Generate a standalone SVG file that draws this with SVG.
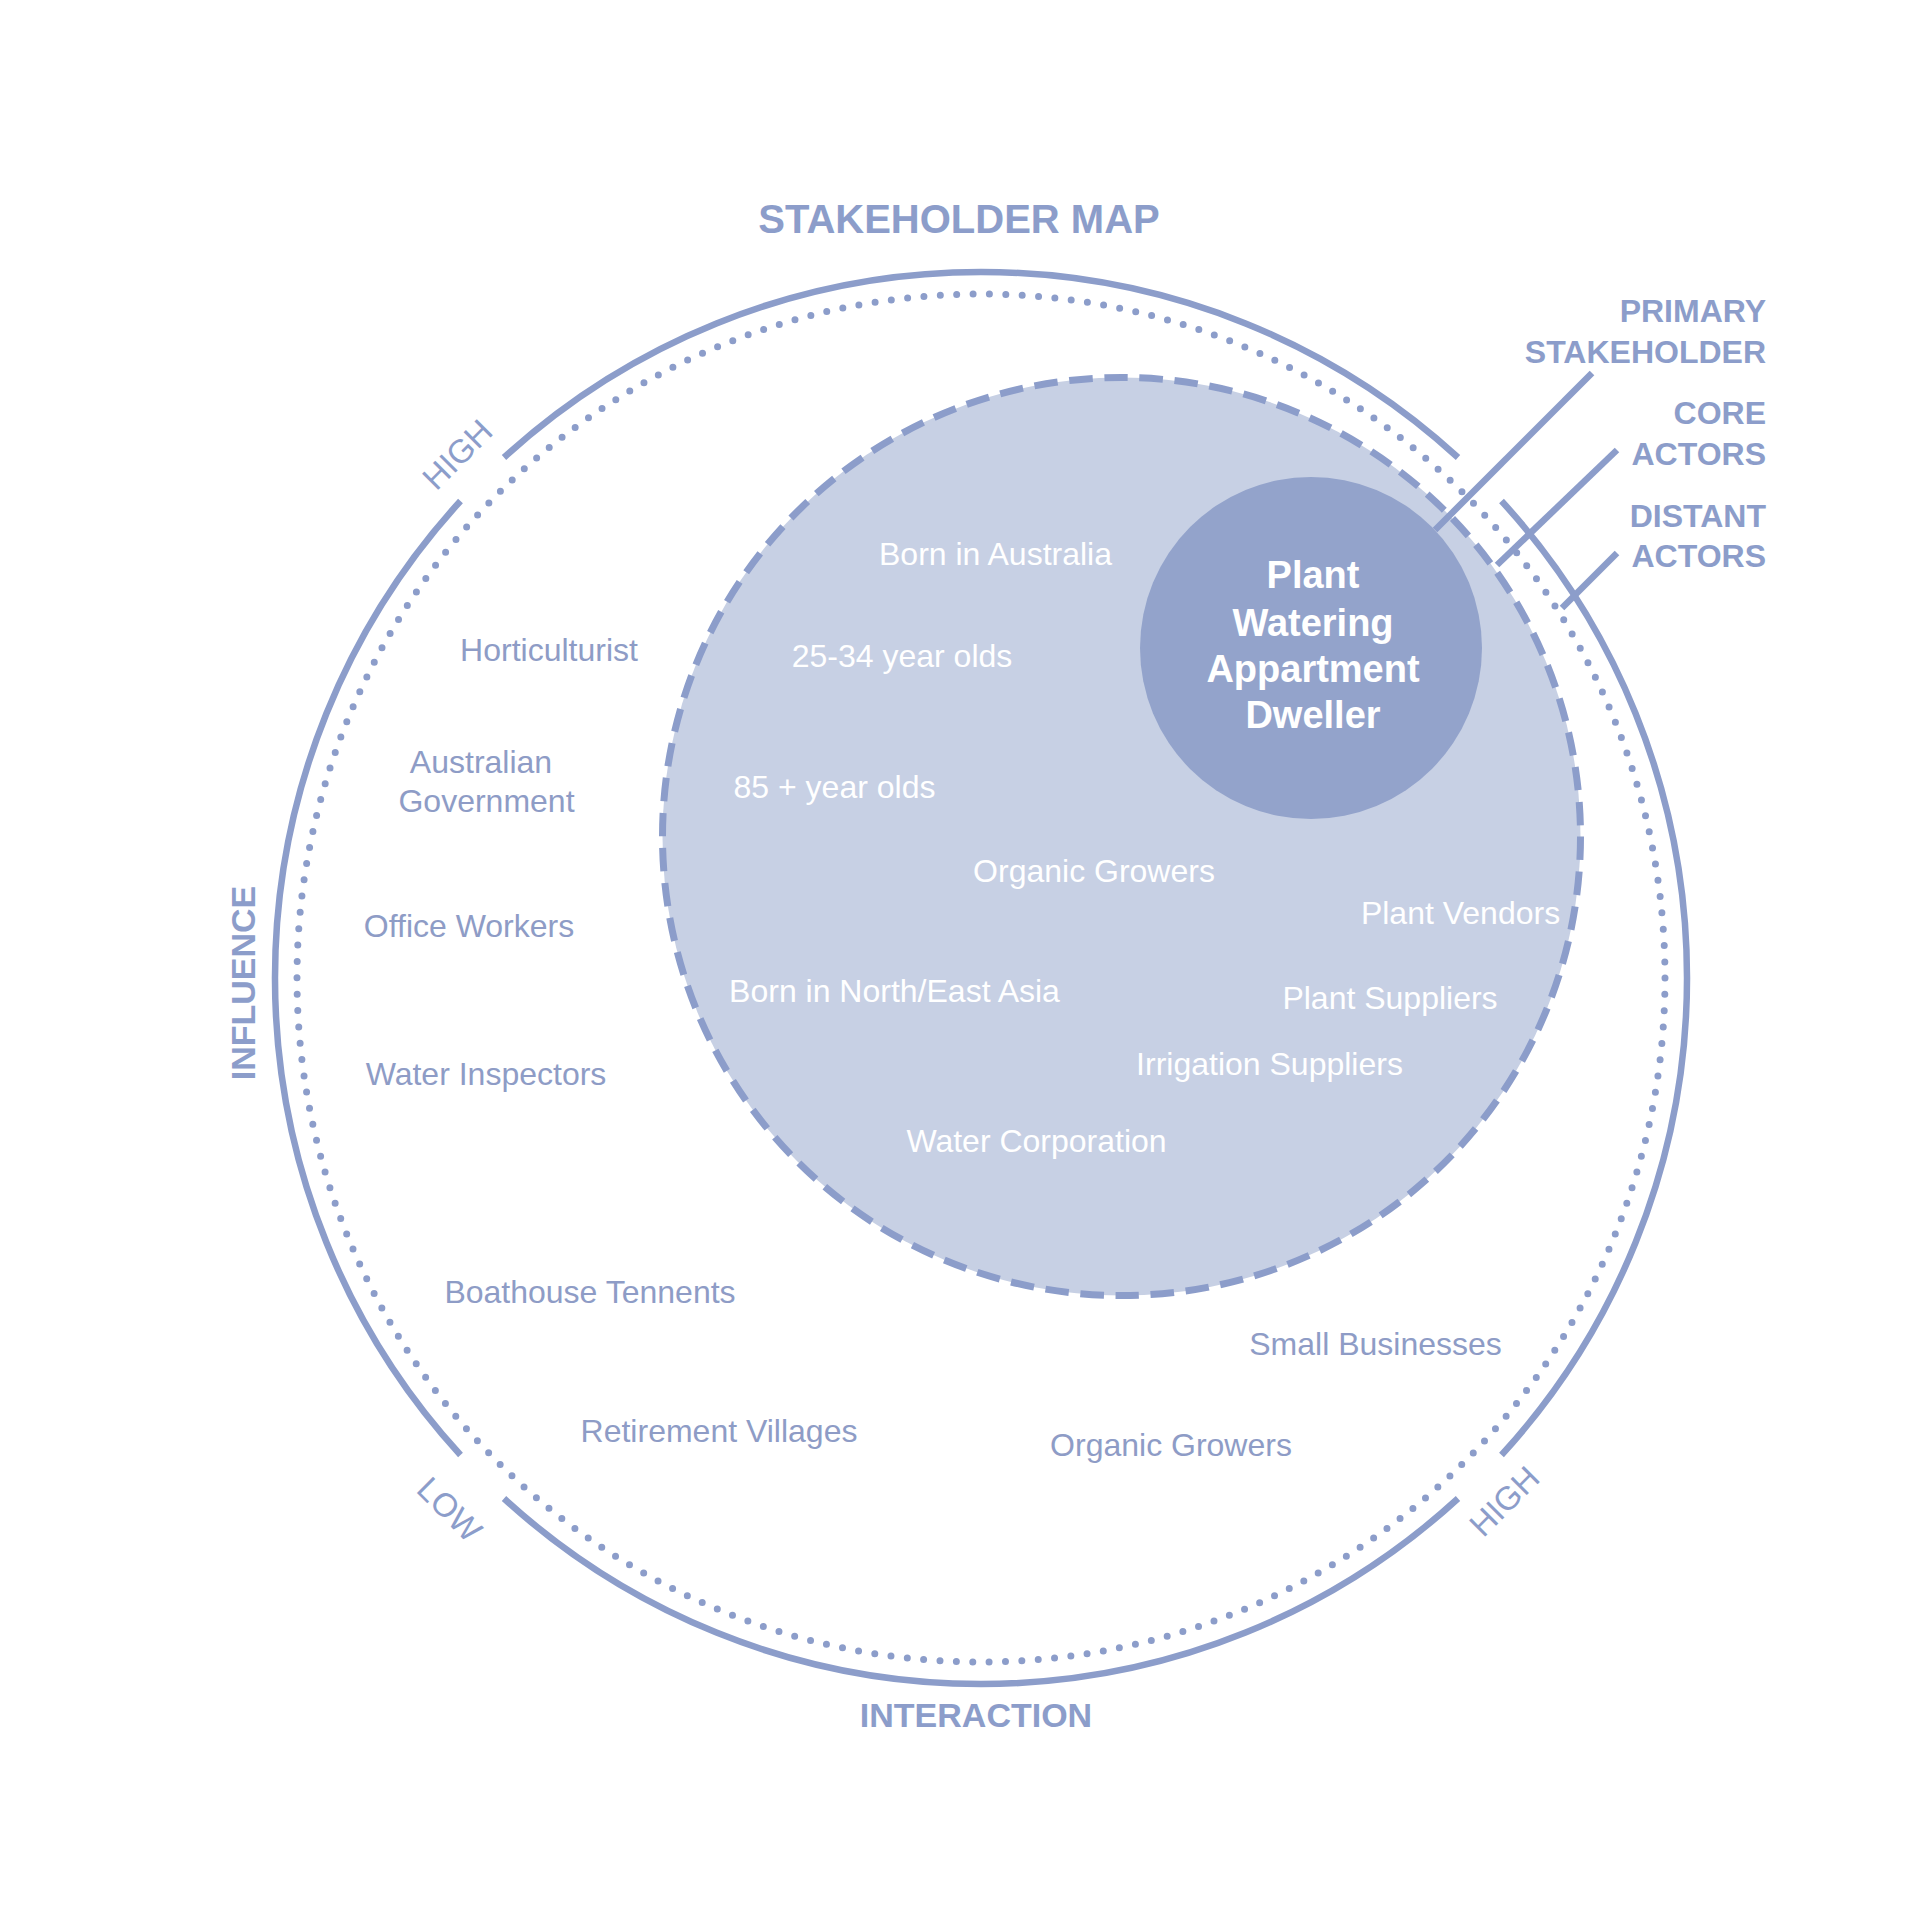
<svg xmlns="http://www.w3.org/2000/svg" width="1920" height="1920" viewBox="0 0 1920 1920">
<style>
.arc{fill:none;stroke:#8C9DCA;stroke-width:6.5}
.dots{fill:none;stroke:#8C9DCA;stroke-width:7;stroke-linecap:round;stroke-dasharray:0 16.403}
.lead{stroke:#8C9DCA;stroke-width:6.5;fill:none}
.head{font-family:"Liberation Sans",Arial,sans-serif;font-weight:bold;fill:#8C9DCA}
.axis{font-family:"Liberation Sans",Arial,sans-serif;font-size:33px;fill:#8C9DCA;text-anchor:middle}
.lbl{font-family:"Liberation Sans",Arial,sans-serif;font-size:32px;fill:#8E9CC6;text-anchor:middle}
.in{fill:#FFFFFF}
.core{font-family:"Liberation Sans",Arial,sans-serif;font-weight:bold;font-size:38px;fill:#FFFFFF;text-anchor:middle}
</style>
<rect width="1920" height="1920" fill="#FFFFFF"/>

<g id="title">
<text class="head" x="959" y="233" font-size="40" text-anchor="middle">STAKEHOLDER MAP</text>
</g>

<g id="distant-ring">
<path class="arc" d="M 1458 1498.5 A 706 706 0 0 1 504 1498.5"/>
<path class="arc" d="M 460.5 1455 A 706 706 0 0 1 460.5 501"/>
<path class="arc" d="M 504 457.5 A 706 706 0 0 1 1458 457.5"/>
<path class="arc" d="M 1501.5 501 A 706 706 0 0 1 1501.5 1455"/>
<circle class="dots" cx="981" cy="978" r="684"/>
</g>

<g id="core-ring">
<circle cx="1121.5" cy="836.5" r="459" fill="#C7D0E4" stroke="#8C9DCA" stroke-width="7" stroke-dasharray="23.5 11.67"/>
</g>

<g id="primary">
<circle cx="1311" cy="648" r="171" fill="#93A3CB"/>
<text class="core" x="1313" y="588">Plant</text>
<text class="core" x="1313" y="636">Watering</text>
<text class="core" x="1313" y="682">Appartment</text>
<text class="core" x="1313" y="728">Dweller</text>
</g>

<g id="connectors">
<line class="lead" x1="1592" y1="373" x2="1435" y2="530"/>
<line class="lead" x1="1617" y1="450" x2="1497" y2="565"/>
<line class="lead" x1="1617" y1="553" x2="1562" y2="608"/>
</g>

<g id="legend">
<text class="head" font-size="32" text-anchor="end" x="1766" y="322">PRIMARY</text>
<text class="head" font-size="32" text-anchor="end" x="1766" y="363">STAKEHOLDER</text>
<text class="head" font-size="32" text-anchor="end" x="1766" y="424">CORE</text>
<text class="head" font-size="32" text-anchor="end" x="1766" y="465">ACTORS</text>
<text class="head" font-size="32" text-anchor="end" x="1766" y="527">DISTANT</text>
<text class="head" font-size="32" text-anchor="end" x="1766" y="567">ACTORS</text>
</g>

<g id="axes">
<text class="head" font-size="34" text-anchor="middle" x="255" y="983" transform="rotate(-90 255 983)">INFLUENCE</text>
<text class="head" font-size="34" text-anchor="middle" x="976" y="1727">INTERACTION</text>
<text class="axis" x="465.5" y="462.5" transform="rotate(-45 465.5 462.5)">HIGH</text>
<text class="axis" x="441.5" y="1517.5" transform="rotate(45 441.5 1517.5)">LOW</text>
<text class="axis" x="1512.4" y="1509.4" transform="rotate(-45 1512.4 1509.4)">HIGH</text>
</g>

<g id="core-actors">
<text class="lbl in" x="995.5" y="565">Born in Australia</text>
<text class="lbl in" x="902" y="667">25-34 year olds</text>
<text class="lbl in" x="834.5" y="798">85 + year olds</text>
<text class="lbl in" x="1094" y="882">Organic Growers</text>
<text class="lbl in" x="1460.5" y="924">Plant Vendors</text>
<text class="lbl in" x="894.5" y="1002">Born in North/East Asia</text>
<text class="lbl in" x="1390" y="1009">Plant Suppliers</text>
<text class="lbl in" x="1269.5" y="1075">Irrigation Suppliers</text>
<text class="lbl in" x="1036.5" y="1152">Water Corporation</text>
</g>

<g id="distant-actors">
<text class="lbl" x="549" y="661">Horticulturist</text>
<text class="lbl" x="481" y="773">Australian</text>
<text class="lbl" x="486.5" y="812">Government</text>
<text class="lbl" x="469" y="937">Office Workers</text>
<text class="lbl" x="486" y="1085">Water Inspectors</text>
<text class="lbl" x="590" y="1303">Boathouse Tennents</text>
<text class="lbl" x="719" y="1442">Retirement Villages</text>
<text class="lbl" x="1171" y="1456">Organic Growers</text>
<text class="lbl" x="1375.5" y="1355">Small Businesses</text>
</g>
</svg>
